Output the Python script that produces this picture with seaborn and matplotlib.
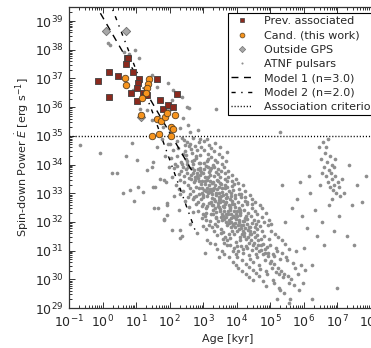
import numpy as np
import pandas as pd
import matplotlib
matplotlib.use("Agg")
import matplotlib.pyplot as plt
import seaborn as sns
from matplotlib.lines import Line2D
from matplotlib.ticker import LogLocator, NullFormatter

sns.set_style("ticks")
plt.rcParams["font.family"] = ["DejaVu Sans"]
plt.rcParams["mathtext.fontset"] = "dejavusans"

# ---------------- data (log10 age [kyr], log10 Edot [erg/s]) ----------------
prev_log_age = [-0.14, 0.20, 0.185, 0.45, 0.72, 0.76, 0.69, 0.90, 0.85, 1.10, 1.05, 1.02,
                1.04, 1.22, 1.27, 1.32, 1.63, 1.72, 1.81, 1.95, 2.10, 2.22]
prev_log_edot = [36.92, 36.35, 37.22, 37.07, 37.70, 37.73, 37.51, 37.21, 36.49, 36.98, 36.84, 36.66,
                 36.22, 36.51, 36.43, 36.44, 36.99, 36.26, 35.93, 36.08, 36.02, 36.45]

cand_log_age = [0.67, 0.69, 1.40, 1.37, 1.34, 1.30, 1.19, 1.14, 1.62, 1.75, 1.87, 1.93,
                2.16, 2.04, 2.11, 1.49, 1.70, 2.04]
cand_log_edot = [37.03, 36.78, 36.98, 36.81, 36.66, 36.49, 36.33, 35.73, 35.58, 35.52, 35.64, 35.79,
                 35.73, 35.30, 35.23, 34.99, 35.05, 34.99]

out_log_age = [0.10, 0.70, 1.14, 1.96]
out_log_edot = [38.65, 38.67, 35.66, 35.94]

model1_log_age = [-0.25, 1.40, 2.66]
model1_log_edot = [39.65, 36.32, 33.80]
model2_log_age = [0.20, 1.50, 2.76]
model2_log_edot = [39.71, 35.80, 31.72]

criterion_edot = 1e35

# ATNF pulsars, grouped by region
atnf_young = [(-0.67, 34.69), (-0.07, 34.40), (0.42, 33.70), (0.27, 33.70), (0.70, 34.30), (0.87, 34.75),
              (1.02, 34.16), (1.32, 33.80), (0.62, 33.00), (0.82, 33.10), (1.05, 33.23), (1.20, 33.06),
              (0.95, 32.73), (1.52, 33.23), (1.55, 32.48), (1.84, 33.47), (1.92, 32.65), (1.84, 32.07),
              (1.92, 32.25), (2.31, 31.72), (2.31, 31.43), (1.47, 33.93),
              (1.52, 34.10), (1.58, 33.20), (1.63, 34.60), (1.67, 32.50), (1.72, 33.50), (1.77, 34.90),
              (1.83, 32.10), (1.85, 34.30), (1.88, 33.40), (1.91, 32.60), (1.94, 34.70), (1.97, 33.90)]
atnf_above = [(0.17, 38.24), (0.64, 37.93), (1.09, 37.72), (1.48, 37.13), (1.63, 36.71), (1.96, 36.85),
              (2.10, 36.60), (2.07, 36.26), (2.37, 36.36), (2.52, 36.00), (2.40, 35.63), (2.31, 35.28),
              (2.55, 35.38), (2.01, 35.14), (1.81, 35.31), (1.33, 35.90), (1.12, 35.95), (0.92, 36.60),
              (0.80, 37.85), (0.22, 38.17), (0.97, 38.00), (1.47, 35.56), (2.62, 35.12), (2.58, 35.98),
              (2.85, 35.20), (3.39, 35.94), (5.30, 35.14)]
atnf_core_a = [
    (2.03, 34.24), (2.06, 33.58), (2.01, 34.71), (2.08, 31.73),
    (2.14, 33.87), (2.11, 34.52), (2.18, 33.29), (2.16, 34.03), (2.12, 32.91),
    (2.23, 34.81), (2.27, 33.66), (2.21, 34.28), (2.29, 33.13), (2.25, 34.57), (2.22, 33.94), (2.28, 32.42),
    (2.34, 34.09), (2.31, 33.47), (2.37, 34.91), (2.33, 33.78), (2.39, 34.37), (2.30, 32.98), (2.36, 34.02), (2.38, 31.52),
    (2.43, 33.61), (2.47, 34.68), (2.40, 33.92), (2.45, 32.73), (2.49, 34.19), (2.42, 33.38), (2.46, 34.47), (2.41, 33.08),
    (2.48, 33.83), (2.44, 34.86),
    (2.54, 33.27), (2.51, 34.01), (2.58, 34.63), (2.53, 33.71), (2.56, 32.87), (2.50, 34.33), (2.59, 33.52), (2.52, 34.78),
    (2.57, 32.51), (2.55, 33.93), (2.51, 34.14),
    (2.63, 33.62), (2.68, 34.41), (2.61, 33.18), (2.66, 33.89), (2.60, 34.73), (2.69, 32.81), (2.64, 33.49), (2.67, 34.12),
    (2.62, 32.99), (2.65, 34.54), (2.69, 33.71), (2.61, 31.93),
    (2.74, 33.38), (2.71, 34.02), (2.78, 32.61), (2.72, 33.81), (2.77, 34.64), (2.70, 33.07), (2.75, 33.58), (2.79, 34.29),
    (2.73, 32.88), (2.76, 33.47), (2.71, 34.93), (2.78, 33.21), (2.74, 34.17), (2.70, 32.33),
    (2.83, 33.69), (2.87, 32.97), (2.80, 34.22), (2.85, 32.68), (2.89, 33.41), (2.81, 34.49), (2.86, 33.86), (2.84, 32.39),
    (2.88, 33.17), (2.82, 33.61), (2.87, 34.04), (2.80, 32.92), (2.85, 33.53), (2.89, 34.79), (2.83, 31.61),
    (2.94, 33.31), (2.91, 33.88), (2.97, 32.57), (2.90, 34.34), (2.96, 33.01), (2.92, 33.64), (2.99, 32.28), (2.93, 34.61),
    (2.98, 33.43), (2.95, 32.79), (2.91, 34.07), (2.97, 33.19), (2.94, 33.74), (2.99, 31.87), (2.92, 33.82), (2.96, 32.12),
    (2.90, 34.89)]
atnf_core_b = [
    (3.04, 33.12), (3.01, 33.71), (3.08, 32.48), (3.02, 34.06), (3.07, 33.33), (3.00, 32.87), (3.09, 33.95), (3.05, 32.19),
    (3.03, 34.52), (3.06, 33.58), (3.01, 32.64), (3.08, 33.07), (3.04, 33.86), (3.09, 31.74), (3.02, 34.83), (3.06, 33.41),
    (3.00, 32.95), (3.07, 30.93),
    (3.13, 33.47), (3.18, 32.66), (3.11, 34.13), (3.16, 33.02), (3.10, 32.31), (3.19, 33.74), (3.14, 34.38), (3.12, 32.92),
    (3.17, 31.88), (3.15, 33.56), (3.19, 33.09), (3.11, 32.54), (3.14, 34.21), (3.18, 33.28), (3.10, 32.07), (3.16, 33.91),
    (3.13, 31.36), (3.17, 34.69), (3.12, 33.18), (3.12, 34.88),
    (3.27, 32.83), (3.21, 33.44), (3.24, 32.27), (3.29, 33.97), (3.22, 33.16), (3.26, 32.58), (3.20, 33.82), (3.28, 31.83),
    (3.23, 33.04), (3.25, 34.27), (3.29, 32.41), (3.21, 33.63), (3.26, 32.96), (3.22, 31.28), (3.28, 33.37), (3.24, 34.58),
    (3.20, 32.03), (3.27, 33.13), (3.23, 32.71), (3.25, 33.88),
    (3.36, 32.72), (3.31, 33.38), (3.39, 32.14), (3.33, 33.93), (3.37, 32.47), (3.30, 33.12), (3.35, 34.17), (3.32, 31.69),
    (3.38, 32.93), (3.34, 33.61), (3.31, 32.29), (3.39, 33.02), (3.33, 34.48), (3.36, 31.22), (3.30, 32.58), (3.37, 33.27),
    (3.35, 31.94), (3.38, 33.73), (3.32, 32.81), (3.34, 33.19), (3.35, 34.76),
    (3.44, 32.56), (3.48, 33.23), (3.41, 31.87), (3.46, 33.68), (3.40, 32.36), (3.49, 33.01), (3.43, 34.09), (3.47, 32.77),
    (3.42, 31.53), (3.45, 33.42), (3.40, 32.18), (3.48, 32.88), (3.44, 33.86), (3.41, 31.07), (3.47, 32.51), (3.43, 33.14),
    (3.49, 30.79), (3.46, 32.67), (3.42, 33.47), (3.45, 32.02), (3.48, 34.36),
    (3.52, 32.44), (3.57, 33.17), (3.55, 31.76), (3.50, 33.58), (3.58, 32.26), (3.53, 32.91), (3.56, 34.02), (3.51, 32.68),
    (3.59, 31.39), (3.54, 33.31), (3.57, 32.08), (3.50, 32.79), (3.55, 33.77), (3.58, 30.98), (3.52, 32.37), (3.56, 33.04),
    (3.53, 31.61), (3.59, 32.57), (3.51, 33.36), (3.54, 32.16), (3.57, 34.27), (3.52, 34.62),
    (3.63, 32.38), (3.68, 32.97), (3.61, 31.66), (3.66, 33.49), (3.60, 32.19), (3.69, 32.84), (3.64, 33.92), (3.67, 32.61),
    (3.62, 31.27), (3.65, 33.18), (3.69, 31.98), (3.61, 32.73), (3.66, 33.69), (3.63, 30.87), (3.68, 32.28), (3.60, 32.93),
    (3.65, 31.49), (3.62, 32.52), (3.67, 33.29), (3.64, 32.09), (3.69, 34.14),
    (3.74, 32.26), (3.71, 32.88), (3.78, 31.58), (3.72, 33.41), (3.77, 32.07), (3.70, 32.69), (3.75, 33.79), (3.79, 32.47),
    (3.73, 31.18), (3.76, 33.07), (3.71, 31.89), (3.78, 32.58), (3.74, 33.58), (3.77, 30.76), (3.70, 32.16), (3.79, 32.79),
    (3.72, 31.37), (3.75, 32.38), (3.73, 33.22), (3.76, 31.97), (3.71, 34.45),
    (3.83, 32.12), (3.87, 32.74), (3.80, 31.43), (3.85, 33.24), (3.89, 31.91), (3.81, 32.53), (3.86, 33.63), (3.84, 32.29),
    (3.88, 30.98), (3.82, 32.91), (3.87, 31.68), (3.80, 32.42), (3.85, 33.41), (3.89, 30.61), (3.83, 31.99), (3.86, 32.63),
    (3.81, 31.19), (3.88, 32.21), (3.84, 33.02), (3.82, 31.81),
    (3.94, 31.97), (3.91, 32.62), (3.97, 31.31), (3.90, 33.12), (3.96, 31.83), (3.92, 32.39), (3.99, 33.51), (3.93, 32.18),
    (3.98, 30.88), (3.95, 32.83), (3.91, 31.58), (3.97, 32.27), (3.93, 33.33), (3.99, 30.49), (3.90, 31.92), (3.96, 32.51),
    (3.92, 31.08), (3.98, 32.11), (3.94, 32.94)]
atnf_core_c = [
    (4.03, 31.88), (4.08, 32.47), (4.01, 31.17), (4.06, 32.98), (4.00, 31.69), (4.09, 32.31), (4.04, 33.37), (4.07, 32.06),
    (4.02, 30.78), (4.05, 32.68), (4.09, 31.46), (4.01, 32.19), (4.06, 33.16), (4.03, 30.41), (4.08, 31.77), (4.00, 32.38),
    (4.04, 30.99), (4.07, 31.98),
    (4.14, 31.78), (4.11, 32.41), (4.18, 31.07), (4.12, 32.87), (4.16, 31.58), (4.10, 32.23), (4.19, 33.28), (4.13, 31.91),
    (4.17, 30.67), (4.15, 32.59), (4.11, 31.37), (4.18, 32.02), (4.12, 32.97), (4.16, 30.28), (4.19, 31.69), (4.10, 32.33),
    (4.14, 31.16),
    (4.23, 31.62), (4.27, 32.21), (4.20, 30.92), (4.25, 32.73), (4.29, 31.41), (4.21, 32.04), (4.26, 33.08), (4.24, 31.79),
    (4.28, 30.53), (4.22, 32.42), (4.27, 31.17), (4.20, 31.88), (4.25, 32.88), (4.29, 30.18), (4.23, 31.51), (4.26, 32.12),
    (4.34, 31.49), (4.31, 32.09), (4.38, 30.83), (4.32, 32.61), (4.36, 31.28), (4.30, 31.92), (4.39, 32.93), (4.33, 31.71),
    (4.37, 30.42), (4.35, 32.31), (4.31, 31.09), (4.38, 31.82), (4.32, 32.69), (4.36, 30.09), (4.39, 31.58),
    (4.43, 31.38), (4.47, 31.97), (4.40, 30.71), (4.45, 32.48), (4.49, 31.19), (4.41, 31.81), (4.46, 32.79), (4.44, 31.57),
    (4.48, 30.31), (4.42, 32.19), (4.47, 31.01), (4.40, 31.68), (4.45, 32.61), (4.49, 29.98),
    (4.53, 31.27), (4.57, 31.93), (4.50, 30.61), (4.55, 32.38), (4.59, 31.08), (4.52, 31.64), (4.56, 32.71), (4.54, 31.47),
    (4.58, 30.22), (4.51, 32.07), (4.57, 30.87), (4.55, 31.81),
    (4.64, 31.18), (4.61, 31.77), (4.68, 30.49), (4.62, 32.29), (4.66, 30.97), (4.60, 31.53), (4.69, 32.58), (4.63, 31.36),
    (4.67, 30.12), (4.65, 32.02), (4.61, 30.79),
    (4.73, 31.02), (4.77, 31.68), (4.71, 30.37), (4.75, 32.17), (4.79, 30.88), (4.72, 31.41), (4.76, 32.49), (4.74, 31.19),
    (4.78, 29.93), (4.70, 31.87),
    (4.84, 30.91), (4.81, 31.52), (4.88, 30.28), (4.83, 32.01), (4.86, 30.69), (4.80, 31.23), (4.89, 32.31), (4.85, 31.04),
    (4.87, 29.78),
    (4.93, 30.82), (4.97, 31.39), (4.90, 30.18), (4.95, 31.88), (4.99, 30.57), (4.91, 31.12), (4.96, 32.08), (4.94, 30.93)]
atnf_tail = [
    (5.04, 30.63), (5.01, 31.21), (5.08, 29.98), (5.03, 31.69), (5.06, 30.41), (5.09, 30.88), (5.02, 31.93),
    (5.13, 30.52), (5.17, 31.09), (5.11, 29.87), (5.15, 31.58), (5.19, 30.27), (5.12, 30.81),
    (5.24, 30.38), (5.21, 30.97), (5.28, 29.71), (5.23, 31.47), (5.26, 30.19), (5.29, 30.72),
    (5.33, 30.29), (5.37, 30.91), (5.31, 29.62), (5.35, 31.38), (5.39, 30.07),
    (5.43, 30.18), (5.47, 30.79), (5.41, 29.51), (5.45, 31.22),
    (5.54, 30.11), (5.51, 30.68), (5.58, 29.88), (5.56, 31.07),
    (5.63, 30.02), (5.67, 30.58), (5.61, 29.31),
    (5.74, 30.41), (5.71, 29.79), (5.78, 30.97),
    (5.84, 30.18), (5.87, 29.62), (5.93, 30.49), (5.97, 29.87), (6.05, 30.31),
    (5.21, 29.31), (5.57, 29.17), (6.25, 29.31)]
atnf_old = [
    (6.45, 34.60), (6.52, 34.20), (6.58, 34.80), (6.61, 33.90), (6.64, 34.40), (6.67, 33.60), (6.70, 34.10), (6.72, 34.90),
    (6.74, 33.40), (6.76, 33.80), (6.78, 34.30), (6.80, 33.20), (6.82, 33.70), (6.84, 34.00), (6.86, 33.50), (6.88, 33.10),
    (6.90, 33.90), (6.92, 33.30), (6.95, 33.60), (6.98, 33.00), (7.02, 33.40), (7.06, 33.20), (7.10, 32.90), (6.68, 34.60),
    (6.56, 33.70), (6.94, 34.20), (7.15, 33.50), (6.49, 33.30), (7.22, 33.00), (6.85, 32.80),
    (6.10, 31.80), (6.35, 32.40), (6.40, 31.50), (6.55, 32.00), (6.62, 31.20), (6.75, 32.60), (6.90, 31.70), (7.00, 29.70),
    (7.05, 32.20), (7.30, 31.50), (7.45, 32.60), (7.60, 33.30), (7.75, 32.70), (7.85, 33.60), (6.20, 33.00), (5.95, 32.20),
    (6.00, 31.10), (6.25, 30.50), (7.35, 34.00), (5.80, 32.80), (6.15, 33.60), (5.65, 32.50), (5.45, 32.00), (5.90, 33.40),
    (5.36, 33.30), (7.50, 31.20)]

# ---------------- build tables ----------------
def to_df(la, le):
    return pd.DataFrame({"age": np.power(10.0, la), "edot": np.power(10.0, le)})

atnf_pts = atnf_young + atnf_above + atnf_core_a + atnf_core_b + atnf_core_c + atnf_tail + atnf_old
atnf_df = to_df([p[0] for p in atnf_pts], [p[1] for p in atnf_pts])
prev_df = to_df(prev_log_age, prev_log_edot)
cand_df = to_df(cand_log_age, cand_log_edot)
out_df = to_df(out_log_age, out_log_edot)
m1_df = to_df(model1_log_age, model1_log_edot)
m2_df = to_df(model2_log_age, model2_log_edot)

c_prev = "#8B2A1E"
c_cand = "#F7941D"
c_out = "#A8A8A8"
c_atnf = "#8E8E8E"

fig = plt.figure(figsize=(3.71, 3.48), dpi=100)
ax = fig.add_axes([69 / 371, 40 / 348, 318 / 371, 301 / 348])

sns.scatterplot(data=atnf_df, x="age", y="edot", ax=ax, color=c_atnf, s=7,
                linewidth=0, marker="o", legend=False, zorder=1)
sns.lineplot(data=m1_df, x="age", y="edot", ax=ax, color="k", lw=1.0,
             estimator=None, sort=False, zorder=2).lines[-1].set_dashes([5, 4])
l2 = sns.lineplot(data=m2_df, x="age", y="edot", ax=ax, color="k", lw=1.0,
                  estimator=None, sort=False, zorder=2).lines[-1]
l2.set_dashes([3, 4, 1, 4])
ax.axhline(criterion_edot, color="k", lw=1.0, ls=(0, (0.8, 1.4)), zorder=2)
sns.scatterplot(data=out_df, x="age", y="edot", ax=ax, color=c_out, marker="D", s=18,
                edgecolor="#707070", linewidth=0.6, legend=False, zorder=3)
sns.scatterplot(data=prev_df, x="age", y="edot", ax=ax, color=c_prev, marker="s", s=22,
                edgecolor="#404040", linewidth=0.6, legend=False, zorder=4)
sns.scatterplot(data=cand_df, x="age", y="edot", ax=ax, color=c_cand, marker="o", s=22,
                edgecolor="#5a4020", linewidth=0.6, legend=False, zorder=5)

ax.set_xscale("log")
ax.set_yscale("log")
ax.set_xlim(1e-1, 10 ** 8.49)
ax.set_ylim(1e29, 10 ** 39.49)

for axis in (ax.xaxis, ax.yaxis):
    axis.set_major_locator(LogLocator(base=10, numticks=30))
    axis.set_minor_locator(LogLocator(base=10, subs=np.arange(2, 10), numticks=300))
    axis.set_minor_formatter(NullFormatter())

ax.tick_params(which="both", direction="in", top=True, right=True, color="#333333", width=0.7)
ax.tick_params(which="major", length=4.5, labelsize=9, pad=4)
ax.tick_params(which="minor", length=2.3)
for sp in ax.spines.values():
    sp.set_color("#333333")
    sp.set_linewidth(0.9)

ax.set_xlabel("Age [kyr]", fontsize=8, labelpad=3)
ax.set_ylabel(r"Spin-down Power $\dot{E}$ [erg s$^{-1}$]", fontsize=8, labelpad=3)

handles = [
    Line2D([], [], marker="s", ls="none", color=c_prev, markeredgecolor="#404040", markeredgewidth=0.5, markersize=3.5),
    Line2D([], [], marker="o", ls="none", color=c_cand, markeredgecolor="#5a4020", markeredgewidth=0.5, markersize=3.5),
    Line2D([], [], marker="D", ls="none", color=c_out, markeredgecolor="#707070", markeredgewidth=0.5, markersize=3.2),
    Line2D([], [], marker="o", ls="none", color=c_atnf, markeredgewidth=0, markersize=1.5),
    Line2D([], [], color="k", lw=1.0, dashes=[5, 4]),
    Line2D([], [], color="k", lw=1.0, dashes=[3, 4, 1, 4]),
    Line2D([], [], color="k", lw=1.0, ls=(0, (0.8, 1.4))),
]
labels = ["Prev. associated", "Cand. (this work)", "Outside GPS", "ATNF pulsars",
          "Model 1 (n=3.0)", "Model 2 (n=2.0)", "Association criterion"]
leg = ax.legend(handles, labels, loc="upper left", bbox_to_anchor=(228 / 371, 1 - 13 / 348),
                bbox_transform=fig.transFigure, fontsize=8, frameon=True, fancybox=False,
                edgecolor="k", framealpha=1, borderpad=0.3, handlelength=1.9,
                handletextpad=1.0, labelspacing=0.38, borderaxespad=0)
leg.get_frame().set_linewidth(0.8)

fig.savefig("out.png", dpi=100)
